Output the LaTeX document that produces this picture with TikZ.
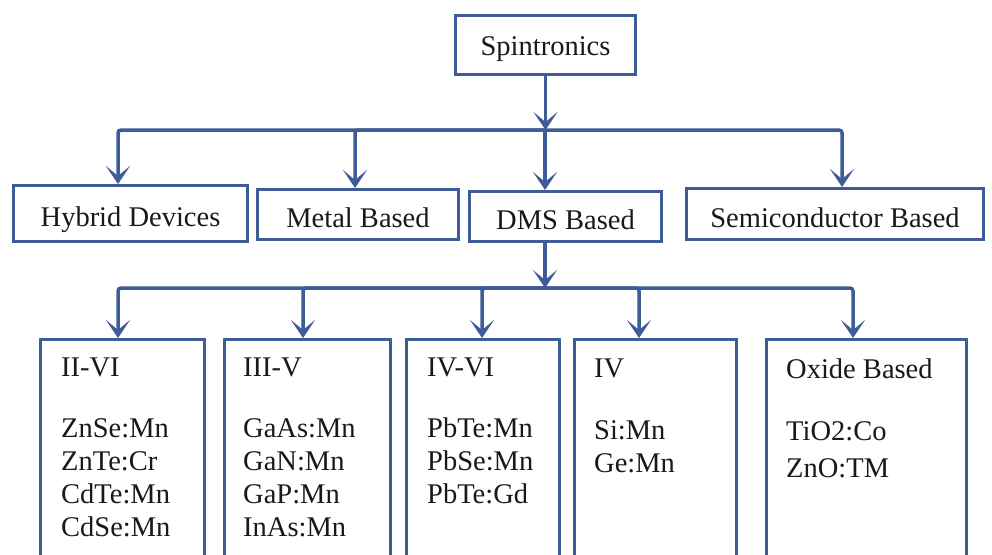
\documentclass[tikz,border=0pt]{standalone}
\usepackage{fontspec}
\setmainfont{Liberation Serif}
\usetikzlibrary{arrows.meta}
\definecolor{lineblue}{RGB}{62,92,150}
\definecolor{ink}{RGB}{25,25,25}
\begin{document}
\begin{tikzpicture}[x=1pt,y=-1pt,
  box/.style={draw=lineblue, line width=3pt, inner sep=0pt, text=ink,
    font=\fontsize{28.5}{33}\selectfont, anchor=north west},
  tbox/.style={box, text height=26pt, text depth=0pt},
  arr/.style={draw=lineblue, line width=3.5pt, rounded corners=3pt,
    -{Stealth[length=18pt,width=24pt,inset=10pt]}},
  lst/.style={anchor=north west, inner sep=0pt, text=ink, align=left,
    font=\fontsize{28.5}{33}\selectfont}]
\clip (0,0) rectangle (992,554);
\fill[white] (0,0) rectangle (992,554);

% top
\node[tbox, text height=21pt, minimum width=180pt, minimum height=59pt] (spin) at (454,14) {Spintronics};

% second row
\node[tbox, minimum width=234pt, minimum height=56pt] (hyb) at (12,184) {Hybrid Devices};
\node[tbox, minimum width=201pt, minimum height=50pt] (met) at (256,188) {Metal Based};
\node[tbox, minimum width=192pt, minimum height=50pt] (dms) at (468,190) {DMS Based};
\node[tbox, minimum width=297pt, minimum height=51pt] (semi) at (685,187) {Semiconductor Based};

% third row boxes
\node[box, minimum width=164pt, minimum height=240pt] (b1) at (39,338) {};
\node[box, minimum width=166pt, minimum height=240pt] (b2) at (223,338) {};
\node[box, minimum width=153pt, minimum height=240pt] (b3) at (405,338) {};
\node[box, minimum width=162pt, minimum height=240pt] (b4) at (573,338) {};
\node[box, minimum width=200pt, minimum height=240pt] (b5) at (765,338) {};

% third row texts
\node[lst] (t1) at (61,358) {II-VI\\[28pt]ZnSe:Mn\\ZnTe:Cr\\CdTe:Mn\\CdSe:Mn};
\node[lst] (t2) at (243,358) {III-V\\[28pt]GaAs:Mn\\GaN:Mn\\GaP:Mn\\InAs:Mn};
\node[lst] (t3) at (427,358) {IV-VI\\[28pt]PbTe:Mn\\PbSe:Mn\\PbTe:Gd};
\node[lst] (t4) at (594,359) {IV\\[29pt]Si:Mn\\Ge:Mn};
\node[lst] (t5) at (786,359) {Oxide Based\\[29pt]TiO2:Co\\[4pt]ZnO:TM};

% connectors level 1
\coordinate (j1) at (545,130);
\draw[arr] (spin.south) -- (spin.south |- j1);
\draw[arr] (j1) -| ([xshift=106pt]hyb.north west);
\draw[arr] (j1) -| ([xshift=99pt]met.north west);
\draw[arr] (j1) -- ([xshift=77pt]dms.north west);
\draw[arr] (j1) -| ([xshift=157pt]semi.north west);

% connectors level 2
\coordinate (j2) at (545,288);
\draw[arr] ([xshift=77pt]dms.south west) -- (j2);
\draw[arr] (j2) -| ([xshift=79pt]b1.north west);
\draw[arr] (j2) -| ([xshift=80pt]b2.north west);
\draw[arr] (j2) -| ([xshift=77pt]b3.north west);
\draw[arr] (j2) -| ([xshift=66pt]b4.north west);
\draw[arr] (j2) -| ([xshift=88pt]b5.north west);
\end{tikzpicture}
\end{document}
